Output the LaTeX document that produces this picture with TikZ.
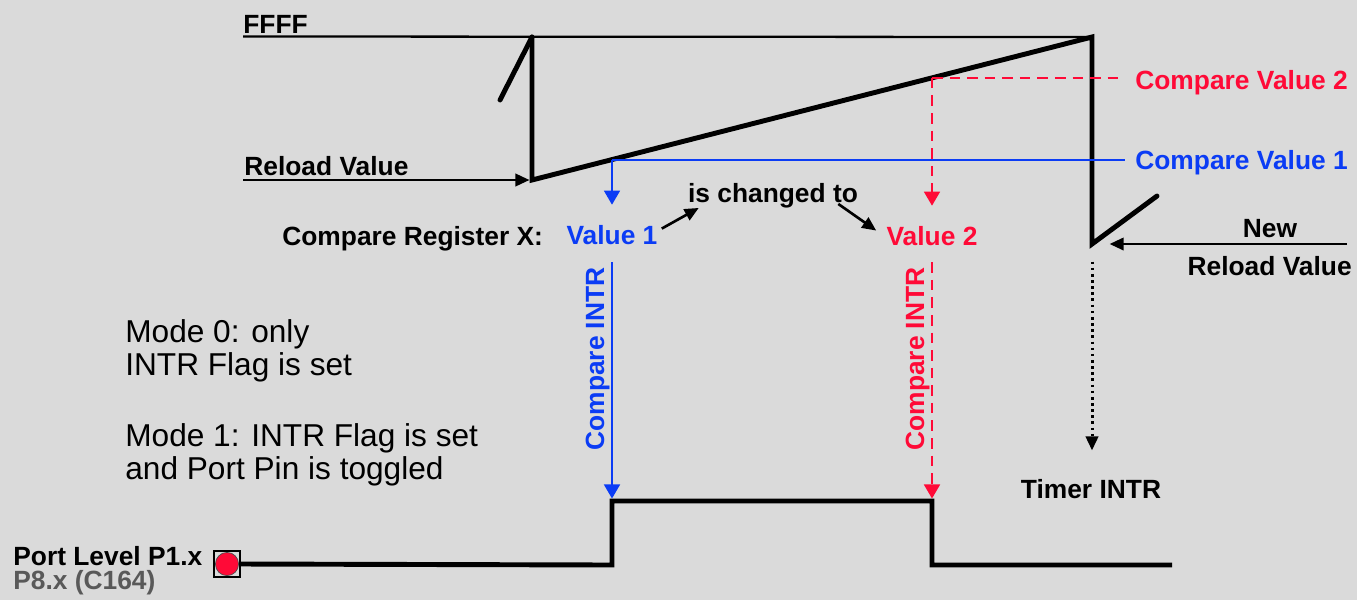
\documentclass[tikz,border=0pt]{standalone}
\usepackage{fontspec}
\setmainfont{Liberation Sans}
\usepackage{xcolor}
\usepackage{tikz}
\usetikzlibrary{arrows.meta, calc}
\definecolor{bgGray}{HTML}{DADADA}
\definecolor{cmpBlue}{HTML}{0B3CF5}
\definecolor{cmpRed}{HTML}{FF0A37}
\definecolor{noteGray}{HTML}{595959}
\tikzset{
    lbl_bold/.style={
        font=\fontsize{15}{18}\selectfont\bfseries, inner sep=0pt
    },
    lbl_mode/.style={
        font=\fontsize{18}{18.7}\selectfont, align=left, inner sep=0pt
    },
    wave_line/.style={
        draw=black, line width=2.8pt, line join=miter
    },
    thin_line/.style={
        draw=black, line width=1.3pt
    },
    ptr_arrow/.style={
        -{Triangle[length=8pt, width=7pt]}, draw=black, line width=1.5pt
    },
    cmp1_line/.style={
        draw=cmpBlue, line width=1.2pt
    },
    cmp2_line/.style={
        draw=cmpRed, line width=1.3pt, dash pattern=on 6pt off 4pt
    },
    cmp_tip/.style={
        -{Triangle[length=8pt, width=9pt]}
    },
    port_box/.style={
        rectangle, draw=black, line width=1.3pt, fill=bgGray,
        minimum size=14.7pt, inner sep=0pt
    },
    port_dot/.style={
        circle, draw=black!70, line width=0.4pt, fill=cmpRed,
        minimum size=13.2pt, inner sep=0pt
    }
}

\begin{document}
\begin{tikzpicture}[x=0.02cm, y=-0.02cm]
    \fill[bgGray] (0,0) rectangle (1357,600);

    \coordinate (ramp_old) at (500,100);
    \coordinate (peak1) at (532,37);
    \coordinate (low1) at (532,180);
    \coordinate (peak2) at (1092,37);
    \coordinate (low2) at (1092,244);
    \coordinate (ramp_new) at (1157,196);
    \coordinate (cmp1_pt) at (612,159.6);
    \coordinate (cmp2_pt) at (932,77.9);
    \coordinate (ffff_tail) at (243,36.5);
    \coordinate (reload_tail) at (243,180);
    \coordinate (newreload_tail) at (1347,244);

    \node[lbl_bold, anchor=base west] (ffff) at (243,33) {FFFF};
    \node[lbl_bold, anchor=base west] (reload_lbl) at (244,175) {Reload Value};
    \node[lbl_bold, anchor=base west, text=cmpBlue] (cmpval1) at (1135,169) {Compare Value 1};
    \node[lbl_bold, anchor=base west, text=cmpRed] (cmpval2) at (1135,89) {Compare Value 2};
    \node[lbl_bold, anchor=base west] (cmpreg) at (282,245) {Compare Register X:};
    \node[lbl_bold, anchor=base, text=cmpBlue] (value1) at (612,244) {Value 1};
    \node[lbl_bold, anchor=base, text=cmpRed] (value2) at (932,245) {Value 2};
    \node[lbl_bold, anchor=base] (changed) at (773,202) {is changed to};
    \node[lbl_bold, anchor=base] (new_lbl) at (1270,237) {New};
    \node[lbl_bold, anchor=base east] (newreload_lbl) at (1352,275) {Reload Value};
    \node[lbl_bold, anchor=base] (timer) at (1091,498) {Timer INTR};
    \node[lbl_bold, anchor=base, rotate=90, text=cmpBlue] (intr1) at (604,359) {Compare INTR};
    \node[lbl_bold, anchor=base, rotate=90, text=cmpRed] (intr2) at (924,359) {Compare INTR};

    % base of a two-line node sits on its last line
    \node[lbl_mode, anchor=base west] (mode0) at (125,375) {Mode 0: only\\INTR Flag is set};
    \node[lbl_mode, anchor=base west] (mode1) at (125,479) {Mode 1: INTR Flag is set\\and Port Pin is toggled};

    \node[lbl_bold, anchor=base west] (port_lbl) at (13,565) {Port Level P1.x};
    \node[lbl_bold, anchor=base west, text=noteGray] (port_alt) at (13,589) {P8.x (C164)};
    \node[port_box] (port) at (227,564) {};
    \node[port_dot] (port_pin) at (port) {};

    \draw[thin_line] (ffff_tail) -- (peak2);
    \draw[wave_line, line cap=round] (ramp_old) -- (peak1);
    \draw[wave_line, line cap=round] (peak1) -- (low1) -- (peak2) -- (low2) -- (ramp_new);

    \draw[ptr_arrow, shorten >=1.4pt] (reload_tail) -- (low1);
    \draw[ptr_arrow, shorten >=10pt] (newreload_tail) -- (low2);
    \draw[ptr_arrow, dotted, line width=1.7pt, shorten <=10pt, shorten >=16pt] (low2) -- (low2 |- timer.north);

    \draw[cmp1_line, shorten >=5.7pt] (cmp1_pt) -- (cmp1_pt -| cmpval1.west);
    \draw[cmp2_line, shorten >=6.5pt] (cmp2_pt) -- (cmp2_pt -| cmpval2.west);
    \draw[cmp1_line, cmp_tip, shorten >=11.3pt] (cmp1_pt) -- (value1.north);
    \draw[cmp2_line, cmp_tip, shorten >=11.3pt] (cmp2_pt) -- (value2.north);

    \draw[ptr_arrow] ($(value1.east)+(4,-6)$) -- ($(changed.south west)+(11,0)$);
    \draw[ptr_arrow] ($(changed.south east)+(-20,-4)$) -- ($(value2.north west)+(-10,5)$);

    \coordinate (rise_low) at (612,565);
    \coordinate (rise_top) at (612,501);
    \coordinate (fall_top) at (932,501);
    \coordinate (fall_low) at (932,565);
    \coordinate (pulse_end) at (1172,565);

    \draw[wave_line] (port.east) -- (rise_low) -- (rise_top) -- (fall_top) -- (fall_low) -- (pulse_end);
    \draw[cmp1_line, cmp_tip, shorten <=10pt, shorten >=1.4pt] (value1.south) -- (rise_top);
    \draw[cmp2_line, cmp_tip, shorten <=9.5pt, shorten >=1.4pt] (value2.south) -- (fall_top);
\end{tikzpicture}
\end{document}
